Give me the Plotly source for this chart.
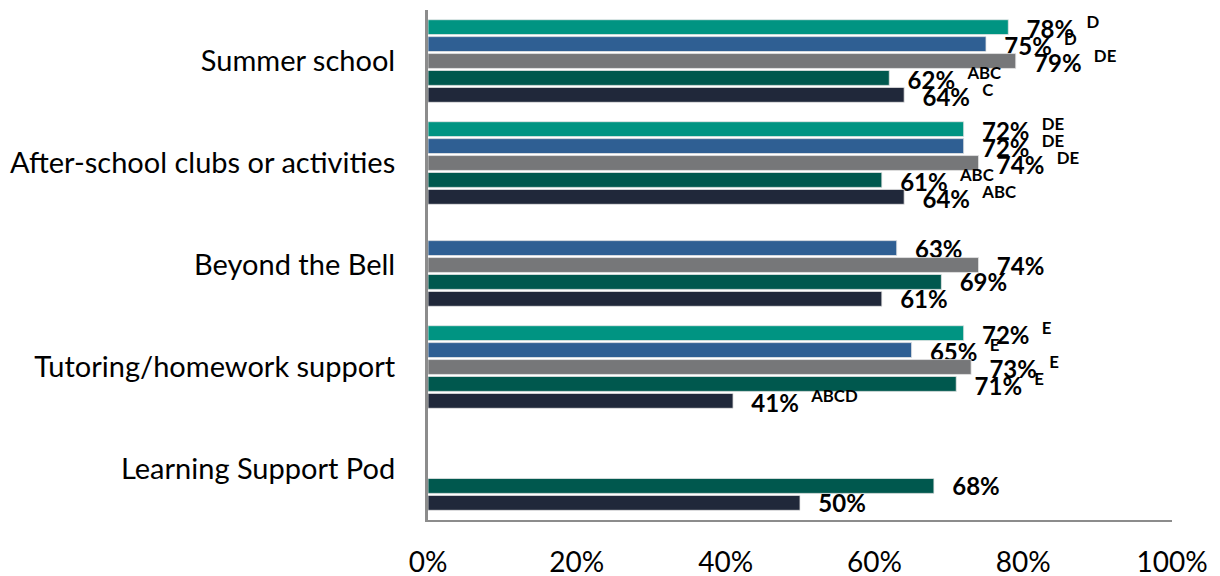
import plotly.graph_objects as go

categories = ["Summer school", "After-school clubs or activities", "Beyond the Bell",
              "Tutoring/homework support", "Learning Support Pod"]

series_names = ["A", "B", "C", "D", "E"]
vals_a = [78, 72, None, 72, None]
vals_b = [75, 72, 63, 65, None]
vals_c = [79, 74, 74, 73, None]
vals_d = [62, 61, 69, 71, 68]
vals_e = [64, 64, 61, 41, 50]

sig_a = ["D", "DE", "", "E", ""]
sig_b = ["D", "DE", "", "E", ""]
sig_c = ["DE", "DE", "", "E", ""]
sig_d = ["ABC", "ABC", "", "E", ""]
sig_e = ["C", "ABC", "", "ABCD", ""]

tick_vals = [0, 20, 40, 60, 80, 100]

colors = ["#009482", "#2F5F93", "#767779", "#00584E", "#20283A"]

all_vals = [vals_a, vals_b, vals_c, vals_d, vals_e]
all_sigs = [sig_a, sig_b, sig_c, sig_d, sig_e]

NB = "\u00a0"

def label(v, s):
    if v is None:
        return ""
    t = NB * 2 + "\u2009" + f"<b>{v}%</b>"
    if s:
        t += NB * 2 + f"<sup><b>{s}</b></sup>"
    return t

fig = go.Figure()
for name, vals, sigs, col in zip(series_names, all_vals, all_sigs, colors):
    fig.add_trace(go.Bar(
        name=name,
        y=categories,
        x=vals,
        orientation="h",
        marker=dict(color=col, line=dict(color="#e6e6e6", width=0.8)),
        text=[label(v, s) for v, s in zip(vals, sigs)],
        textposition="outside",
        constraintext="none",
        cliponaxis=False,
        textfont=dict(family="Lato", size=24, color="#000000"),
    ))

fig.update_layout(
    width=1220, height=576,
    barmode="group",
    bargap=0.17,
    bargroupgap=0.12,
    showlegend=False,
    plot_bgcolor="white",
    paper_bgcolor="white",
    margin=dict(l=420, r=56, t=2, b=64),
    font=dict(family="Lato", color="#000000"),
)
fig.update_xaxes(
    range=[0, 100],
    tickvals=tick_vals,
    ticktext=[f"{v}%" for v in tick_vals],
    showgrid=False,
    zeroline=False,
    showline=True,
    linecolor="#8c8c8c",
    linewidth=2,
    ticks="",
    automargin=False,
    ticklabelstandoff=16,
    tickfont=dict(family="Lato", size=28, color="#000000"),
)
fig.update_yaxes(
    categoryorder="array",
    categoryarray=categories,
    autorange="reversed",
    showgrid=False,
    zeroline=False,
    showline=True,
    linecolor="#8c8c8c",
    linewidth=3,
    ticks="",
    automargin=False,
    ticklabelstandoff=24,
    tickfont=dict(family="Lato", size=29, color="#000000"),
)

fig.write_html("out.html")
